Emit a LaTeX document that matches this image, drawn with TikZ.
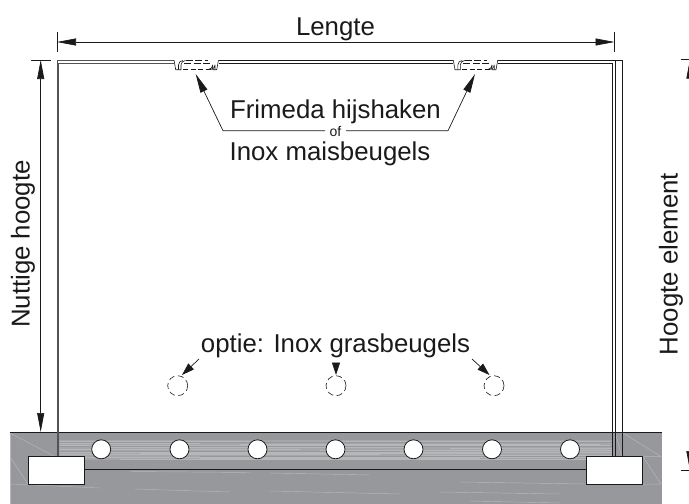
\documentclass[tikz,border=0pt]{standalone}
\usepackage{fontspec}
\setmainfont{Liberation Sans}
\usetikzlibrary{arrows.meta}
\definecolor{ground}{HTML}{97989B}
\definecolor{streak}{HTML}{B6B7B9}
\definecolor{ink}{HTML}{1A1A1A}
\tikzset{
  x=1pt,y=-1pt,
  dim/.style={draw=ink,line width=0.7pt},
  tip/.style={-{Triangle[length=19pt,width=7.5pt]}},
  tip2/.style={{Triangle[length=19pt,width=7pt]}-{Triangle[length=19pt,width=7pt]}},
  small tip/.style={-{Triangle[length=12.5pt,width=8pt]}},
  lbl/.style={inner sep=0pt,anchor=base,text=ink,font=\fontsize{25.8}{26}\selectfont},
  hole/.style={circle,draw=ink,fill=white,line width=0.8pt,minimum size=19pt,inner sep=0pt},
  opt/.style={circle,draw=ink,dash pattern=on 6pt off 3.5pt,line width=0.6pt,minimum size=20pt,inner sep=0pt},
  block/.style={draw=ink,fill=white,line width=0.9pt,inner sep=0pt},
  wall/.style={draw=ink,line width=0.7pt},
  faint/.style={draw=streak,line width=0.45pt},
  hook/.style={draw=ink,line width=0.6pt,line join=round}
}
\begin{document}
\begin{tikzpicture}
\useasboundingbox (0,0) rectangle (689,504);
\begin{scope}
\clip (0,0) rectangle (689,504);
% ground
\fill[ground] (9.5,432) rectangle (661.5,504);
\fill[ground!55!streak] (58,440) rectangle (613,460);
\foreach \y/\a/\b in {441/60/250,441.5/330/610,443/60/200,444/240/600,445.5/60/610,447/100/420,448/450/612,449.5/60/300,450.5/320/612,452/60/612,453/140/500,454.5/60/380,455.5/420/612,457/60/612,458/200/480,459.5/120/612}
  \draw[streak,line width=0.7pt] (\a,\y) -- (\b,\y);
\foreach \y/\a/\b in {442.5/58/613,446.5/58/613,451/58/400,456/200/613}
  \draw[ground,line width=0.5pt] (\a,\y) -- (\b,\y);
\draw[faint] (10,433) -- (56,457);
\draw[faint] (10,457) -- (28,484);
\draw[faint] (10,484) -- (100,488) (135,489) -- (230,492) (270,491) -- (400,494) (440,492) -- (560,494);
\draw[faint] (130,471.5) -- (250,472.5) (270,473) -- (370,475) (460,482) -- (586,484) (470,501) -- (560,503);
\draw[faint] (623,433) -- (661,456.5) (643,457) -- (661,484) (643,484.3) -- (661,484) (643,456.7) -- (661,456.7);
\draw[faint] (615.5,433) -- (621.5,456);
\draw[streak,line width=0.5pt] (10,432) -- (10,504);
\draw[ink,line width=0.9pt] (9.5,432.3) -- (661.5,432.3);
\draw[ink,line width=0.75pt] (84,469.3) -- (587,469.3);
% columns and beam
\draw[wall,draw=ink!75] (58.6,456.7) -- (58.6,63.5) -- (174,63.5);
\draw[wall,draw=ink!75] (57,456.7) -- (57,60) -- (174,60);
\draw[wall] (218.5,60) -- (453,60) (218.5,63.5) -- (453,63.5);
\draw[wall] (497.5,60) -- (622,60) -- (622,456.7);
\draw[wall] (497.5,63.5) -- (612.8,63.5) -- (612.8,456.7);
\draw[wall] (615,60) -- (615,456.7);
% blocks
\node[block,minimum width=56pt,minimum height=27.6pt] (bl) at (56.3,470.5) {};
\node[block,minimum width=56pt,minimum height=27.6pt] (br) at (614.7,470.5) {};
% holes
\foreach \n/\x in {a/101.2,b/179.5,c/257.5,d/335.5,e/413.5,f/492,g/570}
  \node[hole] (h\n) at (\x,449.3) {};
% hook profiles
\foreach \o in {0,279.3}{
  \draw[hook] (\o+174,60) -- (\o+175.7,69.7) -- (\o+181,69.7) -- (\o+181,65) arc[start angle=180,end angle=270,radius=4.5];
  \draw[hook] (\o+218.5,60) -- (\o+216.7,69.7) -- (\o+212.7,69.7) -- (\o+212.7,65) arc[start angle=0,end angle=90,radius=4.5];
  \draw[hook] (\o+178.5,69.7) -- (\o+178.5,65) arc[start angle=180,end angle=270,radius=4.5];
  \draw[hook] (\o+215,69.7) -- (\o+215,65) arc[start angle=0,end angle=90,radius=4.5];
  \draw[hook,dash pattern=on 7pt off 2.5pt] (\o+185.5,60.5) -- (\o+208,60.5);
  \draw[hook,dash pattern=on 7pt off 2.5pt] (\o+184,63.5) -- (\o+210,63.5);
  \draw[hook,dash pattern=on 5pt off 2.5pt] (\o+183,69.7) -- (\o+212,69.7);
}
% dimensions
\coordinate (lenL) at (57,42);
\coordinate (lenR) at (614.5,42);
\draw[dim,tip2] (lenL) -- (lenR);
\draw[dim] (lenL)+(0,-10) -- +(0,9.7);
\draw[dim] (lenR)+(0,-10) -- +(0,9.7);
\coordinate (nutT) at (40.7,60);
\coordinate (nutB) at (40.7,432);
\draw[dim,tip2] (nutT) -- (nutB);
\draw[dim] (31,60) -- (50.7,60);
\coordinate (hooT) at (689.9,59.7);
\coordinate (hooB) at (689.9,470);
\draw[dim,tip2] (hooT) -- (hooB);
\draw[dim] (680.5,59.7) -- (hooT);
\draw[dim] (680.5,470) -- (hooB);
\end{scope}
\node[lbl] (tlen) at (335.5,35) {Lengte};
\node[lbl,rotate=90] (tnut) at (29.5,244) {Nuttige hoogte};
\node[lbl,rotate=90] (thoog) at (677.5,264) {Hoogte element};
% labels
\node[lbl] (fri) at (335.5,118.5) {Frimeda hijshaken};
\node[lbl] (inox) at (330,160.7) {Inox maisbeugels};
\node[inner sep=0pt,text=ink,font=\fontsize{14}{14}\selectfont] (of) at (335.5,131) {of};
\coordinate (kneeL) at (223,130.7);
\coordinate (kneeR) at (448,130.7);
\coordinate (hookL) at (195.7,74);
\coordinate (hookR) at (475,74);
\draw[dim,tip] (325,130.7) -- (kneeL) -- (hookL);
\draw[dim,tip] (346,130.7) -- (kneeR) -- (hookR);
\node[lbl] (opt) at (335.5,352.7) {optie: Inox grasbeugels};
\node[opt] (oa) at (177.7,385.7) {};
\node[opt] (ob) at (336,385.7) {};
\node[opt] (oc) at (494,385.7) {};
\coordinate (oaT) at (182,375);
\coordinate (obT) at (336,375);
\coordinate (ocT) at (489.5,375);
\draw[dim,small tip] (199,359) -- (oaT);
\draw[dim,small tip] (336,363) -- (obT);
\draw[dim,small tip] (472,359) -- (ocT);
\end{tikzpicture}
\end{document}
